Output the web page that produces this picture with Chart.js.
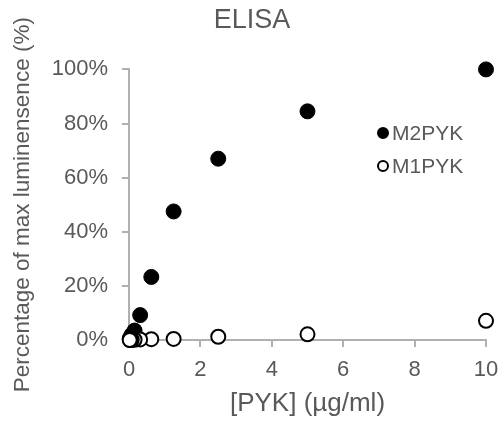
<!DOCTYPE html>
<html>
<head>
<meta charset="utf-8">
<script src="https://cdn.jsdelivr.net/npm/chart.js@4.4.1/dist/chart.umd.min.js"></script>
<style>
  html, body { margin: 0; padding: 0; background: #ffffff; }
  #wrap { width: 502px; height: 427px; position: relative; }
</style>
</head>
<body>
<div id="wrap"><canvas id="c" width="502" height="427"></canvas></div>
<script>
// ---- data ----
const concentrations = [10, 5, 2.5, 1.25, 0.625, 0.3125, 0.156, 0.078, 0.039, 0.0195];
const m2pykValues = [100, 84.5, 67, 47.5, 23.3, 9.2, 3.5, 2, 1, 0.5];
const m1pykValues = [7.1, 2.1, 1.2, 0.4, 0.3, 0.2, 0.1, 0.1, 0, 0];
const seriesLabels = ['M2PYK', 'M1PYK'];
const xTicks = [0, 2, 4, 6, 8, 10];
const yTicks = [0, 20, 40, 60, 80, 100];
const chartTitle = 'ELISA';
const xTitle = '[PYK] (\u00b5g/ml)';
const yTitle = 'Percentage of max luminensence (%)';

const FONT = "Arial, 'Liberation Sans', sans-serif";
const TXT = '#595959';
const AX = '#b0b0b0';

function toPoints(xs, ys) { return xs.map((x, i) => ({ x: x, y: ys[i] })); }

const legendPlugin = {
  id: 'insideLegend',
  afterDraw(chart) {
    const ctx = chart.ctx;
    const items = [
      { label: seriesLabels[0], fill: '#000000', y: 133 },
      { label: seriesLabels[1], fill: '#ffffff', y: 166 }
    ];
    ctx.save();
    ctx.font = '21px ' + FONT;
    ctx.textBaseline = 'middle';
    ctx.textAlign = 'left';
    items.forEach(it => {
      ctx.beginPath();
      ctx.arc(383, it.y, 5, 0, Math.PI * 2);
      ctx.fillStyle = it.fill;
      ctx.fill();
      ctx.lineWidth = 2;
      ctx.strokeStyle = '#000000';
      ctx.stroke();
      ctx.fillStyle = TXT;
      ctx.fillText(it.label, 392, it.y + 1);
    });
    ctx.restore();
  }
};

new Chart(document.getElementById('c'), {
  type: 'scatter',
  data: {
    datasets: [
      {
        label: seriesLabels[1],
        data: toPoints(concentrations, m1pykValues),
        pointRadius: 7,
        pointHoverRadius: 7,
        pointBackgroundColor: '#ffffff',
        pointBorderColor: '#000000',
        pointBorderWidth: 2,
        clip: false
      },
      {
        label: seriesLabels[0],
        data: toPoints(concentrations, m2pykValues),
        pointRadius: 7.5,
        pointHoverRadius: 7.5,
        pointBackgroundColor: '#000000',
        pointBorderColor: '#000000',
        pointBorderWidth: 1,
        clip: false
      }
    ]
  },
  options: {
    responsive: false,
    animation: false,
    events: [],
    layout: { padding: { left: 18, right: 16, top: 0, bottom: 0 } },
    plugins: {
      legend: { display: false },
      tooltip: { enabled: false },
      title: {
        display: true,
        text: chartTitle,
        color: TXT,
        font: { family: FONT, size: 27, weight: 'normal', lineHeight: 1.2 },
        padding: { top: 4, bottom: 33 }
      }
    },
    scales: {
      x: {
        type: 'linear',
        min: 0,
        max: 10,
        afterFit(scale) { scale.height = 87; scale.paddingLeft = 0; scale.paddingRight = 0; },
        afterBuildTicks(scale) { scale.ticks = xTicks.map(v => ({ value: v })); },
        border: { display: true, color: AX, width: 2 },
        grid: { drawOnChartArea: false, drawTicks: true, tickLength: 7, color: AX, lineWidth: 2 },
        ticks: {
          color: TXT,
          font: { family: FONT, size: 22 },
          padding: 10,
          maxRotation: 0,
          callback: v => String(v)
        },
        title: {
          display: true,
          text: xTitle,
          color: TXT,
          font: { family: FONT, size: 26, lineHeight: 1.2 },
          padding: { top: 0, bottom: 8 }
        }
      },
      y: {
        type: 'linear',
        min: 0,
        max: 100,
        afterFit(scale) { scale.width = 111; scale.paddingTop = 0; scale.paddingBottom = 0; },
        afterBuildTicks(scale) { scale.ticks = yTicks.map(v => ({ value: v })); },
        border: { display: true, color: AX, width: 2 },
        grid: { drawOnChartArea: false, drawTicks: true, tickLength: 7, color: AX, lineWidth: 2 },
        ticks: {
          color: TXT,
          font: { family: FONT, size: 22 },
          padding: 14,
          callback: v => v + '%'
        },
        title: {
          display: true,
          text: yTitle,
          color: TXT,
          font: { family: FONT, size: 22.5, lineHeight: 1.2 },
          padding: { top: -9, bottom: 0 }
        }
      }
    }
  },
  plugins: [legendPlugin]
});
</script>
</body>
</html>
